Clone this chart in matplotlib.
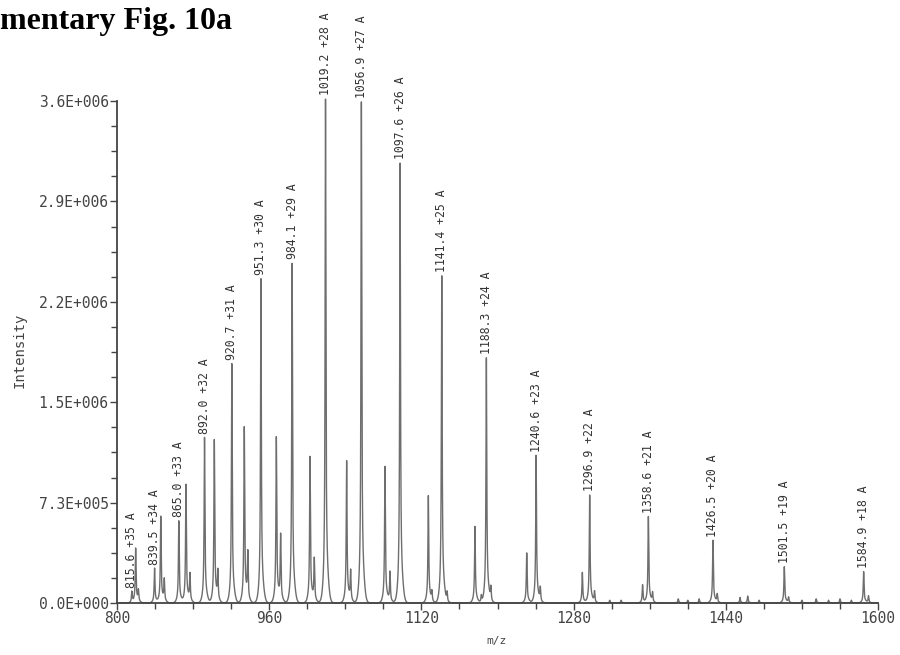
import numpy as np
import matplotlib
matplotlib.use('Agg')
import matplotlib.pyplot as plt
from matplotlib.ticker import FixedLocator, MultipleLocator

# Labelled charge-state peaks (m/z, intensity, charge)
main_mz = [815.6, 839.5, 865.0, 892.0, 920.7, 951.3, 984.1, 1019.2, 1056.9,
           1097.6, 1141.4, 1188.3, 1240.6, 1296.9, 1358.6, 1426.5, 1501.5, 1584.9]
main_int = [0.08e6, 0.25e6, 0.59e6, 1.19e6, 1.72e6, 2.33e6, 2.44e6, 3.62e6, 3.60e6,
            3.16e6, 2.35e6, 1.76e6, 1.06e6, 0.775e6, 0.62e6, 0.45e6, 0.26e6, 0.225e6]
charges = [35, 34, 33, 32, 31, 30, 29, 28, 27, 26, 25, 24, 23, 22, 21, 20, 19, 18]

# Second (unlabelled) envelope
second_mz = [819.6, 846.0, 872.5, 902.3, 933.8, 967.5, 1002.9, 1041.4, 1081.7,
             1127.3, 1176.3, 1230.7, 1289.2, 1352.5]
second_int = [0.39e6, 0.62e6, 0.85e6, 1.17e6, 1.26e6, 1.19e6, 1.05e6, 1.02e6, 0.98e6,
              0.77e6, 0.55e6, 0.36e6, 0.22e6, 0.13e6]

# Small shoulders / adducts and baseline bumps
minor_mz = [822.5, 849.7, 876.7, 906.0, 937.5, 972.0, 1007.4, 1045.6, 1087.0,
            1131.0, 1147.0, 1183.0, 1193.0, 1245.0, 1302.0, 1318.0, 1330.0, 1363.0,
            1390.0, 1400.0, 1412.0, 1431.0, 1455.0, 1463.0, 1475.0, 1506.0, 1520.0,
            1535.0, 1548.0, 1560.0, 1572.0, 1590.0]
minor_int = [0.08e6, 0.16e6, 0.20e6, 0.21e6, 0.34e6, 0.48e6, 0.31e6, 0.22e6, 0.22e6,
             0.07e6, 0.07e6, 0.05e6, 0.10e6, 0.10e6, 0.08e6, 0.02e6, 0.02e6, 0.07e6,
             0.03e6, 0.02e6, 0.03e6, 0.06e6, 0.04e6, 0.05e6, 0.02e6, 0.04e6, 0.02e6,
             0.03e6, 0.02e6, 0.03e6, 0.02e6, 0.05e6]

yticks = [0.0, 0.72e6, 1.44e6, 2.16e6, 2.88e6, 3.6e6]
ytick_labels = ['0.0E+000', '7.3E+005', '1.5E+006', '2.2E+006', '2.9E+006', '3.6E+006']
xticks = [800, 960, 1120, 1280, 1440, 1600]

mono = 'DejaVu Sans Mono'


def peak_profile(mz, centers, heights, gamma=0.5):
    '''Sum of Lorentzian-like peaks with a small foot, drawn on the mz grid'''
    y = np.zeros_like(mz)
    for c, h in zip(centers, heights):
        d = np.abs(mz - c)
        core = 0.93 / (1.0 + (d / gamma) ** 2) * np.clip(1 - d / 9.0, 0, 1)
        foot = 0.07 * np.exp(-0.5 * ((mz - c - 0.5) / 2.2) ** 2)
        y += h * (core + foot)
    return y


mz = np.arange(800, 1600.02, 0.05)
intensity = peak_profile(mz, main_mz + second_mz + minor_mz,
                         main_int + second_int + minor_int)

fig = plt.figure(figsize=(9, 6.55), dpi=100)
ax = fig.add_axes([117 / 900, 52 / 655, 761 / 900, 502 / 655])

ax.plot(mz, intensity, color='#6e6e6e', lw=1.0, clip_on=False, zorder=2)

# Peak annotations
for m, h, z in zip(main_mz, main_int, charges):
    ax.annotate('%.1f +%d A' % (m, z), xy=(m, h), xytext=(0, 2.5),
                textcoords='offset points', rotation=90, ha='center', va='bottom',
                fontsize=8.3, family=mono, color='#333333', annotation_clip=False)

ax.set_xlim(800, 1600)
ax.set_ylim(0, 3.6e6)
ax.spines['top'].set_visible(False)
ax.spines['right'].set_visible(False)
for s in ('left', 'bottom'):
    ax.spines[s].set_color('#444444')
    ax.spines[s].set_linewidth(1.3)

ax.yaxis.set_major_locator(FixedLocator(yticks))
ax.yaxis.set_minor_locator(MultipleLocator(0.18e6))
ax.set_yticklabels(ytick_labels)
ax.xaxis.set_major_locator(FixedLocator(xticks))
ax.xaxis.set_minor_locator(MultipleLocator(40))
ax.set_xticklabels([str(x) for x in xticks])
ax.tick_params(which='both', direction='out', color='#444444', width=1.0)
ax.tick_params(which='major', length=5, labelsize=10.5, labelcolor='#444444', pad=1)
ax.tick_params(which='minor', length=4)
for lab in ax.get_xticklabels() + ax.get_yticklabels():
    lab.set_family(mono)

fig.text(20 / 900, 1 - 350 / 655, 'Intensity', rotation=90, ha='center', va='center',
         family=mono, fontsize=10, color='#444444')
fig.text(497 / 900, 1 - 641 / 655, 'm/z', ha='center', va='center',
         family=mono, fontsize=8, color='#444444')
fig.text(0, 1 - 21 / 655, 'mentary Fig. 10a', ha='left', va='center',
         family='Liberation Serif', fontweight='bold', fontsize=23)

fig.savefig('out.png', dpi=100)
